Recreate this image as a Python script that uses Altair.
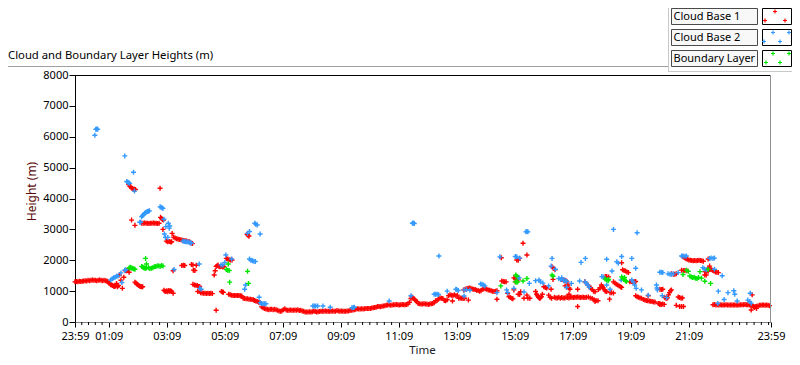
import altair as alt
import pandas as pd

# x = minutes after 23:59 (start of the day window), y = height in metres
cloud_base_1 = [
    (0, 1300), (3, 1310), (6, 1300), (9, 1320), (12, 1310), (15, 1320), (18, 1330), (21, 1340), (24, 1330),
    (27, 1350), (30, 1340), (33, 1350), (36, 1360), (39, 1350), (42, 1350), (45, 1340), (48, 1350), (51, 1360),
    (54, 1350), (57, 1340), (60, 1350), (63, 1340), (66, 1330),
    (68, 1300), (70, 1270), (72, 1240), (74, 1210), (76, 1200), (78, 1180), (80, 1160), (82, 1150), (84, 1170),
    (86, 1250), (88, 1140), (90, 1180),
    (92, 1520), (95, 1350), (98, 1090), (101, 1450), (104, 1660), (107, 1660), (110, 1700), (112, 1610),
    (111, 4450), (113, 4400), (115, 4380), (117, 4340), (119, 4320), (121, 4300), (123, 4300), (125, 4290),
    (117, 3300), (124, 3130),
    (124, 1290), (126, 1260), (128, 1230), (130, 1210), (132, 1180), (134, 1160), (136, 1150), (138, 1140), (140, 1140),
    (138, 3200), (141, 3200), (144, 3210), (147, 3200), (150, 3200), (153, 3190), (156, 3200), (159, 3200),
    (162, 3210), (165, 3200), (168, 3200), (171, 3190), (174, 3200),
    (176, 4330), (177, 3390), (179, 3350), (181, 3320), (183, 3300), (182, 3000),
    (184, 1030), (186, 1000), (188, 990), (190, 1010), (192, 980), (194, 1020), (196, 1000), (198, 1010), (200, 990), (203, 930),
    (189, 2620), (192, 2600), (195, 2610), (198, 2590), (200, 2600), (201, 2870), (203, 1660),
    (204, 2750), (207, 2720), (210, 2700), (213, 2690), (216, 2670), (219, 2660), (222, 2650), (225, 2640),
    (228, 2630), (231, 2620), (234, 2610), (237, 2600), (240, 2560), (243, 2540),
    (221, 1830), (224, 1840), (227, 1830), (241, 1860), (244, 1850), (251, 1840), (245, 1680), (248, 1670),
    (244, 1220), (247, 1200), (250, 1190), (253, 1180), (256, 1150), (258, 1150),
    (254, 990), (258, 1000), (260, 950), (263, 940), (266, 930), (269, 930), (272, 920), (275, 930), (278, 920), (281, 930), (284, 920),
    (288, 1520), (290, 1660),
    (292, 1800), (294, 1820), (296, 1850), (298, 1800), (300, 1790), (302, 1800), (304, 1810), (306, 1780), (308, 1800),
    (292, 380), (303, 990), (305, 970), (307, 960),
    (313, 2060), (316, 2040), (319, 2020), (322, 2010), (325, 2010),
    (356, 2840), (358, 2800), (360, 2780),
    (318, 900), (321, 880), (324, 870), (327, 860), (330, 860), (333, 860), (336, 860), (339, 860), (342, 850), (345, 840),
    (348, 770), (351, 760), (354, 750), (357, 750), (360, 740), (363, 740), (366, 730), (369, 720),
    (371, 700), (374, 680), (377, 660), (380, 640), (383, 620),
    (386, 490), (389, 460), (392, 440), (395, 420), (398, 410), (401, 400), (404, 410),
    (407, 410), (410, 400), (413, 410), (416, 400), (419, 380), (422, 360), (425, 350), (428, 360), (431, 400),
    (434, 430), (437, 390), (440, 380), (443, 380), (446, 390), (449, 380), (452, 380), (455, 390), (458, 380),
    (461, 400), (464, 370), (467, 380), (470, 360), (473, 350), (476, 320), (479, 320), (482, 320), (485, 330),
    (488, 320), (491, 330), (494, 360), (497, 340), (500, 320), (503, 330), (506, 340), (509, 350), (512, 350),
    (515, 350), (518, 360), (521, 350), (524, 350), (527, 350), (530, 350), (533, 360), (536, 350), (539, 350),
    (542, 370), (545, 360), (548, 350), (551, 360), (554, 350), (557, 350), (560, 350), (563, 360), (566, 360),
    (569, 370), (572, 380), (575, 390), (578, 400), (581, 410), (584, 430), (587, 420), (590, 420), (593, 430),
    (596, 420), (599, 430), (602, 440), (605, 440),
    (608, 440), (611, 440), (614, 450), (617, 460), (620, 470), (623, 480), (626, 500), (629, 500), (632, 490),
    (635, 510), (638, 520), (641, 530), (644, 540), (647, 550), (650, 560), (653, 540), (656, 550), (659, 560),
    (662, 560), (665, 570), (668, 560), (671, 550), (674, 560), (677, 570), (680, 560), (683, 560), (686, 570),
    (689, 580), (692, 640), (695, 760), (697, 820), (699, 780), (701, 750), (703, 720), (705, 700), (707, 660),
    (710, 600), (713, 590), (716, 580), (719, 580), (722, 590), (725, 580), (728, 580), (731, 570), (734, 580),
    (737, 590), (740, 600), (743, 620), (746, 690), (749, 700), (752, 740), (755, 780), (758, 770), (761, 760),
    (764, 700), (767, 690), (770, 720), (773, 850), (776, 880), (779, 870), (782, 860), (785, 880), (788, 850),
    (781, 680), (791, 870), (794, 770), (797, 780), (800, 770), (803, 760), (806, 770),
    (804, 1040), (807, 1060), (810, 1080), (813, 1090), (816, 1100), (819, 1090), (822, 1070), (825, 1060),
    (828, 1050), (831, 1030), (834, 1020), (837, 1000), (840, 1010), (843, 1060), (846, 1080), (849, 1080),
    (852, 1060), (855, 1040), (858, 1030), (861, 1010), (864, 1000), (867, 990), (870, 1000), (873, 1010),
    (814, 710), (873, 735), (882, 2080), (883, 1330), (886, 1310), (889, 1300), (892, 1300), (895, 930),
    (898, 820), (901, 790), (904, 760), (906, 750), (908, 1430), (911, 1400), (914, 1380), (917, 1370),
    (911, 1300), (908, 1040), (914, 2010), (917, 2000), (920, 2060), (927, 2550), (935, 2170), (917, 900),
    (920, 890), (922, 980), (929, 770), (935, 870), (937, 770), (941, 770), (953, 990), (955, 900), (957, 850),
    (959, 800), (961, 770), (963, 780), (965, 820), (967, 900), (970, 1140), (973, 1120), (976, 1100),
    (985, 1060), (987, 1790), (990, 1740), (993, 1690), (989, 1380), (980, 870), (983, 800), (986, 770),
    (992, 800), (995, 780), (998, 780), (1001, 800), (1004, 770),
    (1007, 1380), (1010, 1370), (1013, 1350), (1016, 1340),
    (1007, 790), (1010, 780), (1013, 780), (1016, 800), (1019, 790), (1022, 780), (1025, 800), (1028, 800),
    (1031, 790), (1034, 800), (1037, 800), (1040, 810), (1043, 800), (1046, 790), (1049, 800), (1052, 800),
    (1055, 790), (1058, 800),
    (1014, 1170), (1018, 1300), (1020, 1200), (1022, 1100), (1024, 1060), (1022, 900), (1040, 1060), (1040, 500),
    (1055, 1300), (1058, 1250), (1061, 1200), (1064, 1150), (1067, 1100), (1070, 1050), (1073, 1000), (1076, 980),
    (1062, 810), (1066, 780), (1070, 760), (1074, 720), (1078, 700), (1082, 690), (1076, 660),
    (1083, 1050), (1086, 1100), (1089, 1200), (1091, 1150), (1093, 1100), (1095, 1050), (1097, 1000), (1100, 990),
    (1097, 1470), (1100, 1470), (1104, 1460), (1106, 740), (1107, 950), (1110, 950), (1114, 940),
    (1114, 1300), (1117, 1260), (1120, 1220), (1123, 1200), (1126, 1170), (1129, 1140), (1131, 1120), (1131, 1920),
    (1133, 1690), (1136, 1670), (1139, 1650), (1142, 1620), (1145, 1600),
    (1148, 1300), (1151, 1310), (1154, 1300), (1157, 1300), (1160, 1310),
    (1160, 850), (1163, 820), (1166, 800), (1169, 780), (1172, 770),
    (1176, 730), (1179, 710), (1182, 700), (1185, 690), (1188, 680), (1191, 670), (1194, 660), (1197, 650), (1200, 650),
    (1186, 850), (1207, 600), (1210, 600),
    (1210, 1060), (1213, 1050), (1216, 1060), (1210, 570), (1213, 570), (1216, 580), (1219, 570),
    (1220, 800), (1223, 760), (1226, 780), (1228, 880), (1230, 950), (1232, 1010), (1234, 1040),
    (1244, 540), (1248, 810), (1251, 790), (1254, 770), (1257, 780), (1251, 500), (1255, 500), (1259, 500),
    (1255, 1680), (1259, 1670), (1262, 1670), (1266, 1660),
    (1258, 2110), (1261, 2080), (1264, 2050), (1267, 2030), (1270, 2010), (1273, 2000), (1276, 1990), (1279, 1980),
    (1282, 1990), (1285, 1980), (1288, 1990), (1291, 2000), (1294, 1990), (1297, 1980), (1300, 1970),
    (1234, 1560), (1238, 1550), (1241, 1550), (1244, 1560),
    (1303, 1630), (1306, 1620), (1310, 1640), (1303, 1520), (1306, 1520),
    (1310, 1740), (1313, 1730), (1316, 1700), (1319, 1680), (1322, 1650), (1325, 1620), (1328, 1610), (1331, 1600),
    (1313, 1810), (1310, 2040),
    (1320, 560), (1323, 570), (1326, 550), (1329, 560), (1332, 550), (1335, 560), (1338, 550), (1341, 550),
    (1344, 550), (1347, 560), (1350, 550), (1353, 550), (1356, 550), (1359, 550), (1362, 550), (1365, 550),
    (1368, 550), (1371, 550), (1374, 550), (1377, 560), (1380, 560), (1383, 560), (1386, 570), (1389, 560),
    (1392, 560), (1395, 550), (1398, 540), (1401, 530), (1404, 500), (1407, 500), (1410, 510), (1413, 520),
    (1416, 540), (1419, 540), (1422, 550), (1425, 550), (1428, 540), (1431, 550), (1434, 540), (1437, 530),
    (1401, 880), (1399, 390), (1406, 470), (1410, 440),
]

cloud_base_2 = [
    (41, 6050), (43, 6240), (45, 6250), (47, 6240), (103, 5380), (121, 4850),
    (107, 4550), (109, 4530), (111, 4510), (113, 4490), (123, 4240),
    (134, 3230), (136, 3230),
    (138, 3410), (140, 3450), (142, 3480), (144, 3520), (146, 3540), (148, 3560), (150, 3580), (152, 3590), (154, 3600),
    (176, 3730), (178, 3720), (180, 3700), (182, 3680),
    (184, 3330), (188, 3090), (193, 3200), (196, 3110), (195, 3040), (185, 2850), (187, 2740), (192, 2740),
    (74, 1360), (77, 1400), (80, 1430), (83, 1450), (86, 1480), (89, 1490),
    (95, 1590), (97, 1280), (103, 1680), (105, 1690), (205, 1700),
    (223, 2620), (226, 2610), (229, 2600), (232, 2600), (235, 2590), (238, 2570), (241, 2560),
    (257, 1880), (258, 1090), (261, 1060),
    (302, 1850), (306, 1850), (310, 1930), (312, 2170), (324, 2040),
    (351, 1060), (353, 1200), (357, 2870), (361, 2930),
    (372, 3200), (374, 3170), (377, 3140), (383, 2850),
    (361, 2040), (364, 2000), (367, 1980), (370, 1970), (373, 1960),
    (381, 800), (383, 620), (386, 600), (389, 590), (392, 590), (395, 590),
    (492, 520), (495, 520), (498, 520), (502, 520), (513, 520), (528, 480), (573, 460), (576, 470), (578, 480),
    (650, 680), (695, 850), (698, 3200), (700, 3210), (702, 3190), (753, 2140),
    (743, 900), (746, 900), (749, 900), (752, 890), (770, 1000), (788, 1060), (790, 1050), (793, 1020),
    (805, 1040), (805, 840), (810, 1050), (817, 1030),
    (839, 1230), (842, 1220), (845, 1200), (848, 1170), (873, 950), (879, 2110), (893, 1040), (895, 950),
    (908, 1090), (911, 2120), (914, 2110), (920, 2070), (933, 2920), (935, 2930), (937, 2920), (917, 1440),
    (919, 1430), (929, 970), (940, 1250), (953, 1340), (960, 1360), (963, 1300), (968, 1260), (980, 1170),
    (985, 1810), (987, 2060), (994, 1710), (1001, 1410), (1005, 1380), (1011, 1340),
    (1007, 1430), (1014, 1350), (1017, 1310), (1017, 1120), (1027, 1250), (1044, 1330), (1047, 1930),
    (1056, 2060), (1055, 1300), (1058, 1250), (1061, 1200), (1064, 1120), (1090, 1470), (1093, 1460),
    (1100, 2030), (1100, 1200), (1111, 1650), (1107, 1060), (1114, 3000), (1121, 1950), (1124, 1900),
    (1131, 2120), (1130, 1360), (1152, 2060), (1160, 1740), (1163, 2890), (1152, 1360), (1155, 1300),
    (1158, 1200), (1161, 1090), (1172, 1040), (1186, 870), (1203, 1200), (1204, 1100), (1205, 1040), (1210, 1610),
    (1213, 1610), (1216, 1600), (1227, 1560), (1231, 1550), (1234, 1550), (1238, 1560), (1215, 850), (1224, 790),
    (1248, 1600), (1255, 2140), (1258, 2140), (1262, 2130), (1265, 2140), (1313, 2060), (1316, 2070),
    (1320, 2060), (1323, 2070), (1299, 1760), (1302, 1720), (1306, 1690), (1323, 1710), (1339, 1500),
    (1331, 1000), (1343, 730), (1351, 950), (1363, 1010), (1365, 900), (1370, 680), (1392, 710), (1396, 660),
    (1399, 610), (1397, 930), (1330, 600),
]

boundary_layer = [
    (112, 1750), (114, 1770), (116, 1760), (118, 1740), (120, 1730), (122, 1720), (124, 1710),
    (138, 1800), (140, 1780), (142, 1760), (144, 1750), (146, 1740), (146, 2060), (148, 1880), (148, 1760),
    (152, 1760), (155, 1730), (158, 1740), (161, 1760), (164, 1790), (167, 1800), (170, 1810), (173, 1820),
    (176, 1800), (179, 1830), (182, 1810),
    (313, 1700), (316, 1680), (317, 1880), (319, 1670), (320, 1290), (357, 1640), (359, 1250),
    (881, 1170), (912, 1520), (914, 1480), (911, 1300), (914, 1290), (916, 1300), (927, 1330), (935, 1410),
    (987, 1520), (989, 1480),
    (1097, 1390), (1100, 1360), (1103, 1340), (1104, 1380),
    (1131, 1460), (1133, 1420), (1135, 1380), (1137, 1440), (1139, 1340), (1141, 1310),
    (1258, 1540), (1265, 1680), (1269, 1640), (1272, 1490), (1275, 1460), (1278, 1440), (1281, 1450),
    (1284, 1420), (1287, 1400), (1290, 1440), (1293, 1630), (1296, 1420), (1303, 1320), (1310, 1700), (1315, 1250),
]

series_names = ["Cloud Base 1", "Cloud Base 2", "Boundary Layer"]
series_colors = ["#ff0000", "#3399ff", "#00e600"]

major_ticks = [0, 70, 190, 310, 430, 550, 670, 790, 910, 1030, 1150, 1270, 1440]
minor_ticks = [14, 28, 42, 56] + [m for m in range(85, 1440, 15) if m not in major_ticks]
height_ticks = [0, 1000, 2000, 3000, 4000, 5000, 6000, 7000, 8000]

rows = []
for name, pts in zip(series_names, [cloud_base_1, cloud_base_2, boundary_layer]):
    for t, h in pts:
        rows.append({"series": name, "t": t, "h": h})
df = pd.DataFrame(rows)
df["order"] = range(len(df))

W, H = 696, 247
FONT = "Noto Sans"
PLUS = "M-1,0L1,0M0,-1L0,1"

x_scale = alt.Scale(domain=[0, 1440], nice=False, zero=False)
y_scale = alt.Scale(domain=[0, 8000], nice=False)

x_axis = alt.Axis(
    values=major_ticks,
    labelExpr="timeFormat(datetime(2000, 0, 1, 23, 59 + datum.value), '%H:%M')",
    title="Time", grid=False, tickSize=5, tickColor="black", domainColor="#808080",
    labelColor="black", labelFont=FONT, labelFontSize=11, labelPadding=3,
    labelOverlap=False, labelFlush=False,
    titleFont=FONT, titleFontSize=11.5, titleFontWeight="normal", titleColor="#1a1a2a",
    titleX=W / 2 - 1, titleY=28.5, titleBaseline="middle")

y_axis = alt.Axis(
    values=height_ticks, format="d", title="Height (m)", grid=False,
    tickSize=6, tickColor="black", domainColor="black",
    labelColor="black", labelFont=FONT, labelFontSize=11, labelPadding=1,
    titleFont=FONT, titleFontSize=12, titleFontWeight="normal", titleColor="#5a0a0a",
    titleX=-44, titleY=116, titleBaseline="middle")

points = alt.Chart(df).mark_point(
    shape=PLUS, filled=False, size=25, strokeWidth=1.4, opacity=1
).encode(
    x=alt.X("t:Q", scale=x_scale, axis=x_axis),
    y=alt.Y("h:Q", scale=y_scale, axis=y_axis),
    color=alt.Color("series:N", scale=alt.Scale(domain=series_names, range=series_colors), legend=None),
    order=alt.Order("order:Q"),
)

minor = alt.Chart(pd.DataFrame({"t": minor_ticks})).mark_rule(color="black", strokeWidth=1).encode(
    x=alt.X("t:Q", scale=x_scale, axis=x_axis),
    y=alt.value(H), y2=alt.value(H + 3),
)

one = pd.DataFrame({"k": [0]})
base = alt.Chart(one)

layers = [
    points,
    minor,
    # plot frame (top black, right gray)
    base.mark_rule(color="black", strokeWidth=1).encode(x=alt.value(0), x2=alt.value(W), y=alt.value(0.5)),
    base.mark_rule(color="#909090", strokeWidth=1).encode(x=alt.value(W - 0.5), y=alt.value(0), y2=alt.value(H)),
    # outer panel line and legend panel borders
    base.mark_rule(color="#a0a0a0", strokeWidth=1).encode(x=alt.value(-67), x2=alt.value(593), y=alt.value(-8.5)),
    base.mark_rule(color="#c8c8c8", strokeWidth=1).encode(x=alt.value(593.5), y=alt.value(-67), y2=alt.value(-3)),
    base.mark_rule(color="#c8c8c8", strokeWidth=1).encode(x=alt.value(593), x2=alt.value(717), y=alt.value(-3.5)),
    # chart title
    base.mark_text(align="left", baseline="alphabetic", font=FONT, fontSize=11.3, color="black").encode(
        x=alt.value(-67), y=alt.value(-16), text=alt.value("Cloud and Boundary Layer Heights (m)")),
]

row_tops = [-67, -46, -25]
icon_marks = [
    [(12.5, 3.5), (2.5, 12.5), (22.5, 12.5)],
    [(10.5, 3.5), (26.5, 3.5), (1.5, 12.5), (17.5, 12.5)],
    [(10.5, 3.5), (26.5, 3.5), (3.5, 12.5), (17.5, 12.5)],
]
for name, colr, top, marks in zip(series_names, series_colors, row_tops, icon_marks):
    layers.append(base.mark_rect(fill="#f8f8f8", stroke="#4a4a4a", strokeWidth=1).encode(
        x=alt.value(596.5), x2=alt.value(682.5), y=alt.value(top + 0.5), y2=alt.value(top + 16.5)))
    layers.append(base.mark_text(align="left", baseline="middle", font=FONT, fontSize=11, color="black").encode(
        x=alt.value(598.5), y=alt.value(top + 8.5), text=alt.value(name)))
    layers.append(base.mark_rect(fill="white", stroke="black", strokeWidth=1).encode(
        x=alt.value(687.5), x2=alt.value(716.5), y=alt.value(top + 0.5), y2=alt.value(top + 16.5)))
    for dx, dy in marks:
        layers.append(base.mark_point(shape=PLUS, filled=False, size=16, strokeWidth=1.2, color=colr, opacity=1).encode(
            x=alt.value(687.5 + dx), y=alt.value(top + dy)))

chart = alt.layer(*layers).properties(
    width=W, height=H,
    padding={"left": 67, "top": 67, "right": 21, "bottom": 35},
    autosize=alt.AutoSizeParams(type="none"),
    background="white",
).configure_view(strokeWidth=0)

chart.save("out.html", embed_options={"renderer": "svg", "actions": False})
